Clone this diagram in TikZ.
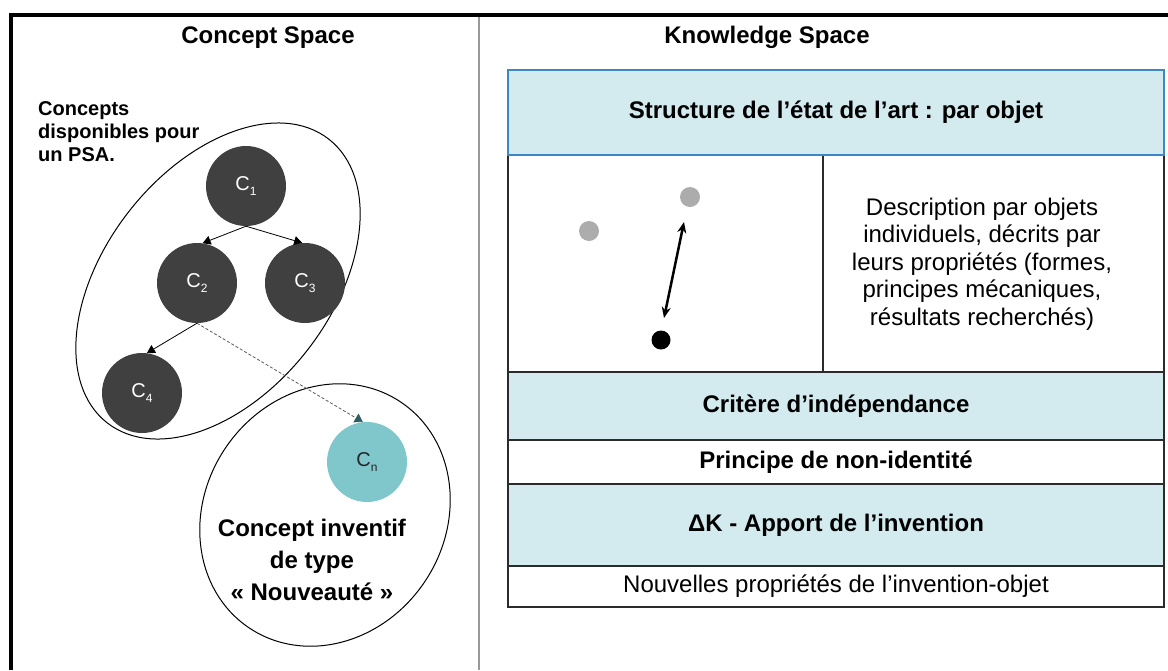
\documentclass[tikz,border=0pt]{standalone}
\usepackage{fontspec}
\setmainfont{Liberation Sans}
\usetikzlibrary{arrows.meta}
\definecolor{cyanfill}{HTML}{D3EBEE}
\definecolor{cnfill}{HTML}{7FC7CB}
\definecolor{darkc}{HTML}{404040}
\definecolor{hdrblue}{HTML}{3F86C4}
\definecolor{rowline}{HTML}{2B2B2B}
\definecolor{tipteal}{HTML}{2E5E63}
\newcommand{\csub}[1]{C\raisebox{-0.45ex}{\fontsize{12}{12}\selectfont #1}}
\begin{document}
\begin{tikzpicture}[x=1pt,y=-1pt,
  conc/.style={circle, fill=darkc, minimum size=80pt, inner sep=0pt, text=white, font=\fontsize{20}{20}\selectfont},
  tree/.style={line width=0.8pt, -{Triangle[length=8pt,width=9pt]}},
  rowbox/.style={draw=rowline, line width=1.2pt, anchor=north west, inner sep=0pt, outer sep=0pt, minimum width=656pt},
  boldtxt/.style={font=\bfseries\fontsize{24}{27}\selectfont},
  normtxt/.style={font=\fontsize{24}{27.6}\selectfont},
  dot/.style={circle, inner sep=0pt, minimum size=20pt}
]
\useasboundingbox (0,0) rectangle (1168,670);
% frame
\draw[line width=4pt] (9,15) -- (1168,15);
\draw[line width=4pt] (11,13) -- (11,670);
\draw[gray!80, line width=2pt] (479,17) -- (479,670);

% titles
\node[font=\bfseries\fontsize{24}{28}\selectfont] (tc) at (268,38) {Concept Space};
\node[font=\bfseries\fontsize{24}{28}\selectfont] (tk) at (767,37) {Knowledge Space};

% left text
\node[anchor=west, align=left, inner sep=0pt, font=\bfseries\fontsize{20}{23}\selectfont] (avail) at (38,132) {Concepts\\disponibles pour\\un PSA.};

% ellipses
\draw[line width=1pt, rotate around={52:(218,281)}] (218,281) ellipse [x radius=180, y radius=113];
\draw[line width=1pt, rotate around={56:(325,515)}] (325,515) ellipse [x radius=136, y radius=120];

% concepts
\node[conc] (c1) at (246,186) {\csub{1}};
\node[conc] (c2) at (197,283) {\csub{2}};
\node[conc] (c3) at (305,283) {\csub{3}};
\node[conc] (c4) at (142,393) {\csub{4}};
\node[conc, fill=cnfill, text=black!85] (cn) at (367,462) {\csub{n}};

\draw[tree] (c1.south) -- (c2.82);
\draw[tree] (c1.south) -- (c3.94);
\draw[tree] (c2.south) -- (c4.83);
\draw[gray!70!black, line width=0.8pt, dash pattern=on 3pt off 2pt, -{Triangle[length=8pt,width=10pt,color=tipteal]}] (c2.south) -- (cn.96);

\node[align=center, font=\bfseries\fontsize{24}{32}\selectfont] (inv) at (312,560) {Concept inventif\\de type\\« Nouveauté »};

% knowledge table
\node[rowbox, minimum width=315pt, minimum height=217pt] (r2l) at (508,155) {};
\node[rowbox, minimum width=341pt, minimum height=217pt] (r2r) at (823,155) {};
\node[rowbox, fill=cyanfill, draw=hdrblue, minimum height=85pt] (hdr) at (508,70) {};
\node[boldtxt] (hdrt) at (hdr.center) {Structure de l’état de l’art : par objet};
\node[rowbox, fill=cyanfill, minimum height=68pt] (crit) at (508,372) {};
\node[boldtxt] (critt) at (crit.center) {Critère d’indépendance};
\node[rowbox, minimum height=44pt] (princ) at (508,440) {};
\node[boldtxt] (princt) at (princ.center) {Principe de non-identité};
\node[rowbox, fill=cyanfill, minimum height=82pt] (dk) at (508,484) {};
\node[boldtxt] (dkt) at (dk.center) {ΔK - Apport de l’invention};
\node[rowbox, minimum height=41pt] (nouv) at (508,566) {};
\node[normtxt] (nouvt) at (nouv.center) {Nouvelles propriétés de l’invention-objet};

\node[normtxt, align=center] (desc) at (982,264) {Description par objets\\individuels, décrits par\\leurs propriétés (formes,\\principes mécaniques,\\résultats recherchés)};

\node[dot, fill=gray!65] (g1) at (589,231) {};
\node[dot, fill=gray!65] (g2) at (690,197) {};
\node[dot, fill=black, minimum size=19pt] (b1) at (661,340) {};
\coordinate (a1) at (684,222);
\coordinate (a2) at (664,318);
\draw[line width=2.5pt, {Stealth[length=11pt,width=9pt]}-{Stealth[length=11pt,width=9pt]}] (a1) -- (a2);
\end{tikzpicture}
\end{document}
